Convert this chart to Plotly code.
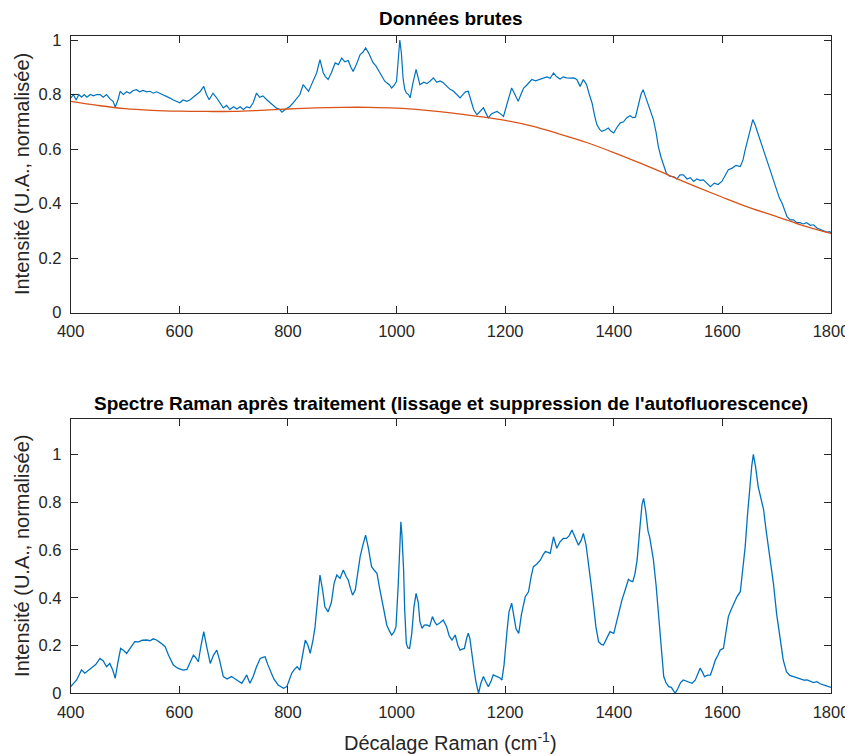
import plotly.graph_objects as go

# ---------------- DATA ----------------
raw_x = [400, 405, 410, 415, 420, 425, 430, 436, 442, 448, 454, 460, 466, 472, 478, 482, 487, 491, 497, 503,
         509, 515, 521, 527, 533, 540, 546, 552, 558, 564, 570, 576, 583, 589, 595, 601, 607, 614, 620, 626,
         632, 638, 645, 650, 655, 662, 668, 674, 681, 687, 693, 700, 706, 712, 718, 724, 730, 736, 742, 748,
         754, 761, 767, 773, 779, 785, 789, 795, 800, 804, 810, 816, 822, 828, 833, 838, 842, 847, 853, 859,
         865, 869, 874, 880, 887, 893, 899, 905, 911, 916, 920, 926, 933, 938, 943, 948, 953, 957, 962, 968,
         973, 978, 982, 987, 991, 996, 1000, 1003, 1006, 1009, 1012, 1015, 1018, 1022, 1025, 1030, 1036, 1040, 1043, 1050,
         1056, 1062, 1068, 1074, 1080, 1086, 1092, 1098, 1105, 1111, 1117, 1122, 1127, 1132, 1137, 1142, 1148, 1154, 1160, 1165,
         1169, 1175, 1180, 1185, 1191, 1197, 1204, 1212, 1218, 1224, 1229, 1234, 1240, 1249, 1256, 1264, 1270, 1277, 1283, 1289,
         1295, 1301, 1307, 1313, 1320, 1326, 1332, 1338, 1344, 1350, 1355, 1360, 1365, 1369, 1374, 1378, 1384, 1390, 1395, 1400,
         1406, 1412, 1418, 1424, 1430, 1435, 1440, 1445, 1450, 1454, 1459, 1464, 1469, 1473, 1478, 1482, 1487, 1492, 1497, 1503,
         1510, 1516, 1522, 1528, 1535, 1541, 1547, 1553, 1559, 1565, 1571, 1578, 1585, 1592, 1599, 1605, 1611, 1618, 1625, 1633,
         1638, 1642, 1647, 1652, 1656, 1660, 1665, 1670, 1676, 1685, 1692, 1700, 1705, 1710, 1715, 1719, 1725, 1731, 1737, 1743,
         1749, 1755, 1762, 1768, 1774, 1780, 1786, 1792, 1798, 1800]
raw_y = [0.787, 0.80, 0.78, 0.80, 0.79, 0.80, 0.79, 0.80, 0.795, 0.80, 0.80, 0.79, 0.80, 0.785, 0.775, 0.754, 0.78, 0.812, 0.80, 0.81,
         0.805, 0.815, 0.818, 0.81, 0.815, 0.81, 0.812, 0.805, 0.81, 0.805, 0.80, 0.795, 0.787, 0.78, 0.775, 0.77, 0.78, 0.775, 0.781, 0.79,
         0.80, 0.81, 0.830, 0.80, 0.781, 0.805, 0.79, 0.77, 0.751, 0.76, 0.745, 0.755, 0.747, 0.755, 0.745, 0.755, 0.751, 0.77, 0.805, 0.79,
         0.795, 0.781, 0.77, 0.76, 0.75, 0.745, 0.735, 0.745, 0.75, 0.757, 0.77, 0.787, 0.80, 0.836, 0.825, 0.812, 0.83, 0.855, 0.88, 0.928,
         0.88, 0.866, 0.855, 0.88, 0.916, 0.91, 0.934, 0.92, 0.925, 0.90, 0.885, 0.91, 0.947, 0.955, 0.971, 0.955, 0.93, 0.916, 0.905, 0.885,
         0.865, 0.85, 0.843, 0.835, 0.824, 0.835, 0.849, 0.93, 1.0, 0.95, 0.86, 0.82, 0.806, 0.80, 0.788, 0.84, 0.892, 0.86, 0.836, 0.845,
         0.84, 0.85, 0.861, 0.845, 0.85, 0.843, 0.83, 0.82, 0.812, 0.80, 0.788, 0.80, 0.81, 0.812, 0.78, 0.745, 0.726, 0.74, 0.751, 0.73,
         0.714, 0.73, 0.735, 0.738, 0.73, 0.72, 0.77, 0.824, 0.80, 0.775, 0.80, 0.824, 0.835, 0.855, 0.85, 0.855, 0.86, 0.865, 0.86, 0.879,
         0.865, 0.857, 0.865, 0.861, 0.86, 0.861, 0.855, 0.830, 0.855, 0.836, 0.80, 0.769, 0.72, 0.689, 0.672, 0.665, 0.67, 0.677, 0.665, 0.659,
         0.68, 0.696, 0.70, 0.715, 0.722, 0.715, 0.717, 0.76, 0.80, 0.818, 0.79, 0.757, 0.735, 0.708, 0.66, 0.610, 0.57, 0.536, 0.51, 0.50,
         0.499, 0.49, 0.505, 0.505, 0.49, 0.495, 0.481, 0.49, 0.485, 0.487, 0.475, 0.462, 0.475, 0.47, 0.481, 0.50, 0.524, 0.53, 0.54, 0.536,
         0.56, 0.597, 0.64, 0.68, 0.708, 0.69, 0.66, 0.634, 0.60, 0.548, 0.50, 0.450, 0.42, 0.401, 0.37, 0.352, 0.34, 0.34, 0.33, 0.330,
         0.325, 0.33, 0.32, 0.322, 0.31, 0.305, 0.30, 0.295, 0.297, 0.29]

baseline_x = [400, 450, 500, 550, 600, 650, 700, 750, 800, 850, 900, 950, 1000, 1050, 1100,
              1150, 1200, 1250, 1300, 1350, 1400, 1450, 1500, 1550, 1600, 1650, 1700, 1750, 1800]
baseline_y = [0.775, 0.76, 0.748, 0.742, 0.739, 0.738, 0.738, 0.742, 0.747, 0.751, 0.753, 0.753, 0.75, 0.743, 0.733,
              0.72, 0.705, 0.684, 0.655, 0.624, 0.587, 0.547, 0.505, 0.463, 0.423, 0.385, 0.352, 0.318, 0.29]

proc_x = [400, 405, 411, 416, 420, 426, 432, 439, 446, 454, 460, 466, 472, 477, 482, 487, 492, 497, 503, 510,
          518, 525, 532, 540, 546, 552, 558, 566, 574, 580, 589, 597, 607, 614, 620, 626, 630, 635, 640, 645,
          650, 655, 657, 663, 669, 674, 681, 688, 696, 703, 709, 715, 720, 724, 730, 736, 742, 749, 754, 758,
          763, 767, 774, 782, 792, 798, 807, 812, 817, 822, 826, 832, 837, 841, 846, 850, 855, 859, 864, 868,
          874, 880, 885, 890, 896, 902, 907, 911, 915, 919, 924, 928, 933, 938, 943, 948, 954, 959, 964, 968,
          973, 978, 982, 987, 991, 995, 999, 1003, 1006, 1008, 1010, 1013, 1015, 1018, 1021, 1024, 1028, 1032, 1036, 1040,
          1043, 1047, 1051, 1056, 1061, 1066, 1070, 1074, 1080, 1086, 1092, 1097, 1102, 1108, 1113, 1117, 1121, 1125, 1129, 1132,
          1135, 1138, 1142, 1146, 1151, 1155, 1160, 1165, 1169, 1174, 1178, 1185, 1190, 1194, 1198, 1203, 1207, 1212, 1216, 1220,
          1225, 1230, 1237, 1243, 1248, 1252, 1258, 1265, 1270, 1274, 1279, 1283, 1289, 1295, 1301, 1307, 1313, 1318, 1323, 1329,
          1335, 1340, 1344, 1349, 1353, 1358, 1363, 1367, 1372, 1377, 1381, 1387, 1393, 1400, 1404, 1409, 1415, 1421, 1427, 1431,
          1435, 1439, 1443, 1448, 1452, 1455, 1459, 1463, 1466, 1470, 1473, 1478, 1482, 1487, 1492, 1496, 1501, 1506, 1510, 1513,
          1518, 1523, 1528, 1535, 1544, 1550, 1555, 1559, 1563, 1567, 1572, 1578, 1583, 1587, 1592, 1596, 1602, 1606, 1611, 1616,
          1621, 1627, 1633, 1637, 1642, 1646, 1650, 1654, 1657, 1661, 1666, 1671, 1676, 1680, 1685, 1690, 1694, 1700, 1706, 1712,
          1718, 1724, 1731, 1738, 1744, 1750, 1756, 1762, 1768, 1774, 1780, 1786, 1792, 1798, 1800]
proc_y = [0.028, 0.04, 0.056, 0.08, 0.098, 0.084, 0.095, 0.111, 0.12, 0.146, 0.135, 0.111, 0.125, 0.10, 0.063, 0.13, 0.188, 0.18, 0.167, 0.19,
          0.216, 0.215, 0.222, 0.223, 0.22, 0.228, 0.223, 0.21, 0.195, 0.16, 0.118, 0.105, 0.097, 0.10, 0.13, 0.160, 0.15, 0.132, 0.20, 0.258,
          0.20, 0.14, 0.125, 0.16, 0.181, 0.14, 0.070, 0.06, 0.070, 0.06, 0.05, 0.042, 0.06, 0.077, 0.042, 0.07, 0.11, 0.146, 0.15, 0.153,
          0.12, 0.097, 0.06, 0.035, 0.021, 0.028, 0.084, 0.10, 0.111, 0.097, 0.15, 0.223, 0.20, 0.167, 0.22, 0.279, 0.40, 0.495, 0.43, 0.362,
          0.341, 0.38, 0.46, 0.495, 0.481, 0.516, 0.49, 0.474, 0.44, 0.411, 0.432, 0.50, 0.572, 0.62, 0.662, 0.61, 0.530, 0.515, 0.502, 0.45,
          0.390, 0.33, 0.286, 0.26, 0.244, 0.255, 0.279, 0.45, 0.66, 0.718, 0.66, 0.516, 0.35, 0.209, 0.19, 0.188, 0.25, 0.36, 0.418, 0.38,
          0.30, 0.272, 0.285, 0.286, 0.28, 0.321, 0.30, 0.286, 0.295, 0.307, 0.28, 0.24, 0.223, 0.244, 0.20, 0.181, 0.185, 0.188, 0.23, 0.251,
          0.23, 0.17, 0.111, 0.05, 0.0, 0.04, 0.070, 0.045, 0.028, 0.05, 0.077, 0.07, 0.065, 0.056, 0.12, 0.25, 0.34, 0.377, 0.33, 0.27,
          0.251, 0.33, 0.404, 0.425, 0.49, 0.530, 0.54, 0.558, 0.58, 0.593, 0.59, 0.586, 0.655, 0.607, 0.634, 0.648, 0.648, 0.66, 0.683, 0.655,
          0.620, 0.64, 0.669, 0.62, 0.558, 0.46, 0.362, 0.28, 0.216, 0.205, 0.202, 0.23, 0.258, 0.251, 0.29, 0.341, 0.39, 0.432, 0.477, 0.47,
          0.467, 0.50, 0.558, 0.69, 0.79, 0.816, 0.76, 0.68, 0.655, 0.60, 0.558, 0.45, 0.335, 0.20, 0.070, 0.045, 0.028, 0.025, 0.01, 0.0,
          0.02, 0.045, 0.056, 0.05, 0.042, 0.055, 0.08, 0.105, 0.09, 0.070, 0.075, 0.077, 0.11, 0.139, 0.16, 0.181, 0.188, 0.25, 0.321, 0.35,
          0.377, 0.405, 0.425, 0.50, 0.613, 0.74, 0.851, 0.95, 1.0, 0.95, 0.864, 0.82, 0.767, 0.69, 0.613, 0.53, 0.460, 0.33, 0.223, 0.14,
          0.090, 0.075, 0.070, 0.065, 0.06, 0.055, 0.056, 0.05, 0.045, 0.049, 0.04, 0.035, 0.03, 0.028, 0.025]

x_ticks = [400, 600, 800, 1000, 1200, 1400, 1600, 1800]
y_ticks_top = [0, 0.2, 0.4, 0.6, 0.8, 1]
y_ticks_bottom = [0, 0.2, 0.4, 0.6, 0.8, 1]
title_top = "<b>Données brutes</b>"
title_bottom = "<b>Spectre Raman après traitement (lissage et suppression de l'autofluorescence)</b>"
y_label = "Intensité (U.A., normalisée)"
x_label = "Décalage Raman (cm<sup>-1</sup>)"

# ---------------- STYLE ----------------
OFF = 8                      # default page body margin
W, H = 853 - OFF, 756 - OFF  # figure size so that it fills the window
BLUE = "#0072BD"
ORANGE = "#D95319"
AX = "#262626"
FONT = "Liberation Sans, Arial, Helvetica, sans-serif"

def px_x(p):
    return (p - OFF) / W

def px_y(p):
    return 1 - (p - OFF) / H

L, R = 70.7, 831.0
TOP1, BOT1 = 35.7, 312.5
TOP2, BOT2 = 418.5, 693.3

fig = go.Figure()
fig.add_trace(go.Scatter(x=raw_x, y=raw_y, mode="lines", line=dict(color=BLUE, width=1.2),
                         xaxis="x", yaxis="y", showlegend=False))
fig.add_trace(go.Scatter(x=baseline_x, y=baseline_y, mode="lines",
                         line=dict(color=ORANGE, width=1.3, shape="spline", smoothing=1.0),
                         xaxis="x", yaxis="y", showlegend=False))
fig.add_trace(go.Scatter(x=proc_x, y=proc_y, mode="lines", line=dict(color=BLUE, width=1.3),
                         xaxis="x2", yaxis="y2", showlegend=False))

axis_common = dict(
    showline=True, linecolor=AX, linewidth=1, mirror="ticks",
    ticks="inside", ticklen=7, tickwidth=1, tickcolor=AX,
    showgrid=False, zeroline=False,
    tickfont=dict(family=FONT, size=16.5, color=AX),
    automargin=False, fixedrange=True,
)

fig.update_layout(
    width=W, height=H,
    margin=dict(l=0, r=0, t=0, b=0),
    paper_bgcolor="white", plot_bgcolor="white",
    font=dict(family=FONT, color=AX),
    xaxis=dict(domain=[px_x(L), px_x(R)], range=[400, 1800], tickvals=x_ticks,
               ticktext=[str(v) for v in x_ticks], anchor="y", ticklabelstandoff=4, **axis_common),
    yaxis=dict(domain=[px_y(BOT1), px_y(TOP1)], range=[0, 1.016], tickvals=y_ticks_top,
               ticktext=["0", "0.2", "0.4", "0.6", "0.8", "1"], anchor="x", ticklabelstandoff=5, **axis_common),
    xaxis2=dict(domain=[px_x(L), px_x(R)], range=[400, 1800], tickvals=x_ticks,
                ticktext=[str(v) for v in x_ticks], anchor="y2", ticklabelstandoff=4, **axis_common),
    yaxis2=dict(domain=[px_y(BOT2), px_y(TOP2)], range=[0, 1.15], tickvals=y_ticks_bottom,
                ticktext=["0", "0.2", "0.4", "0.6", "0.8", "1"], anchor="x2", ticklabelstandoff=5, **axis_common),
)

ann_font_title = dict(family=FONT, size=19, color="black")
ann_font_label = dict(family=FONT, size=20, color=AX)
fig.add_annotation(text=title_top, x=px_x((L + R) / 2), y=px_y(18), xref="paper", yref="paper",
                   showarrow=False, xanchor="center", yanchor="middle", font=ann_font_title)
fig.add_annotation(text=title_bottom, x=px_x((L + R) / 2), y=px_y(403), xref="paper", yref="paper",
                   showarrow=False, xanchor="center", yanchor="middle", font=ann_font_title)
fig.add_annotation(text=y_label, x=px_x(22), y=px_y((TOP1 + BOT1) / 2), xref="paper", yref="paper",
                   showarrow=False, xanchor="center", yanchor="middle", textangle=-90, font=ann_font_label)
fig.add_annotation(text=y_label, x=px_x(22), y=px_y((TOP2 + BOT2) / 2), xref="paper", yref="paper",
                   showarrow=False, xanchor="center", yanchor="middle", textangle=-90, font=ann_font_label)
fig.add_annotation(text=x_label, x=px_x((L + R) / 2), y=px_y(741), xref="paper", yref="paper",
                   showarrow=False, xanchor="center", yanchor="middle", font=ann_font_label)

fig.write_html("out.html")
